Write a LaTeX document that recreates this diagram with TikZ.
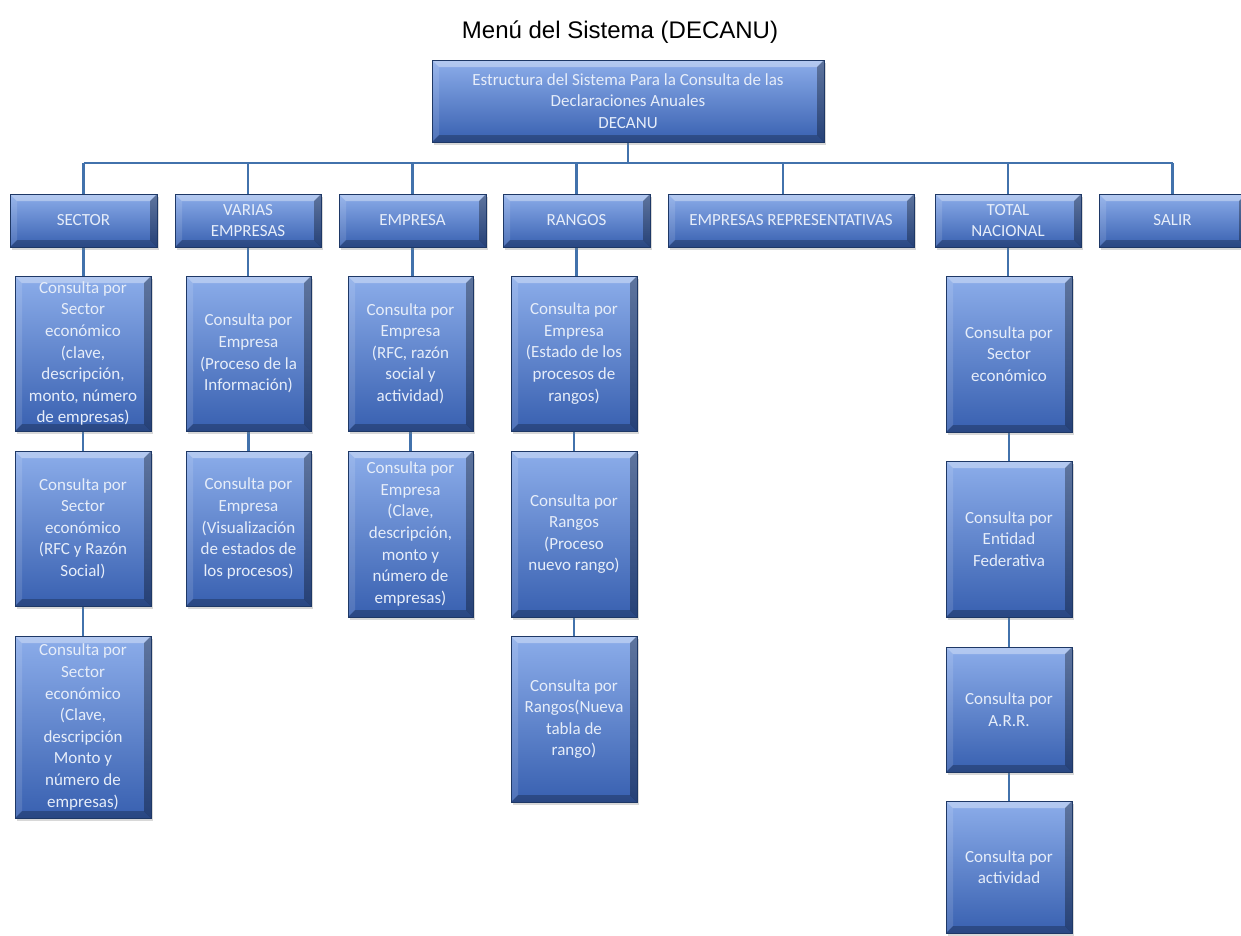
\documentclass[tikz,border=0pt]{standalone}
\usepackage{fontspec}
\usetikzlibrary{shadows}
\newfontfamily\boxff{Carlito}
\newfontfamily\titleff{Liberation Sans}
\definecolor{facetop}{RGB}{140,173,234}
\definecolor{facemid}{RGB}{90,137,218}
\definecolor{facebot}{RGB}{56,96,176}
\definecolor{boxedge}{RGB}{30,56,102}
\definecolor{boxtext}{RGB}{230,237,249}
\definecolor{linkcol}{RGB}{66,114,172}
\pgfdeclarelayer{bg}
\pgfsetlayers{bg,main}
\tikzset{
  bevelbox/.style={
    rectangle, draw=boxedge, line width=0.7pt, inner sep=0pt,
    top color=facetop, middle color=facemid, bottom color=facebot,
    text=boxtext, align=center,
    font=\boxff\fontsize{17}{21.6}\selectfont,
    drop shadow={shadow xshift=1.5pt, shadow yshift=-3pt, opacity=0.3},
    path picture={
      \fill[white, opacity=0.35]
        (path picture bounding box.north west) -- (path picture bounding box.north east)
        -- ([xshift=-7pt,yshift=-7pt]path picture bounding box.north east)
        -- ([xshift=7pt,yshift=-7pt]path picture bounding box.north west) -- cycle;
      \fill[white, opacity=0.12]
        (path picture bounding box.north west) -- ([xshift=7pt,yshift=-7pt]path picture bounding box.north west)
        -- ([xshift=7pt,yshift=7pt]path picture bounding box.south west)
        -- (path picture bounding box.south west) -- cycle;
      \fill[black, opacity=0.32]
        (path picture bounding box.north east) -- ([xshift=-7pt,yshift=-7pt]path picture bounding box.north east)
        -- ([xshift=-7pt,yshift=7pt]path picture bounding box.south east)
        -- (path picture bounding box.south east) -- cycle;
      \fill[black, opacity=0.25]
        (path picture bounding box.south west) -- (path picture bounding box.south east)
        -- ([xshift=-7pt,yshift=7pt]path picture bounding box.south east)
        -- ([xshift=7pt,yshift=7pt]path picture bounding box.south west) -- cycle;
    }
  },
  link/.style={draw=linkcol, line width=2.2pt}
}
% \bx{name}{x1}{y1}{x2}{y2}{text}: a bevelled box spanning the given corners
\newcommand{\bx}[6]{%
  \node[bevelbox, minimum width={#4-#2}, minimum height={#5-#3}]
    (#1) at ({(#2+#4)/2},{(#3+#5)/2}) {#6};}
\begin{document}
\begin{tikzpicture}[x=1pt, y=-1pt]
\begin{pgfonlayer}{bg}
  \fill[white] (0,0) rectangle (1241,935);
\end{pgfonlayer}
\useasboundingbox (0,0) rectangle (1241,935);

\node[font=\titleff\fontsize{24}{28}\selectfont, anchor=base] (title) at (620,38) {Menú del Sistema (DECANU)};

\bx{top}{432}{60}{824}{142}{Estructura del Sistema Para la Consulta de las\\Declaraciones Anuales\\DECANU}

% first level
\bx{sector}{10}{194}{157}{247}{SECTOR}
\bx{varias}{175}{194}{321}{247}{VARIAS\\EMPRESAS}
\bx{empresa}{339}{194}{486}{247}{EMPRESA}
\bx{rangos}{503}{194}{650}{247}{RANGOS}
\bx{repres}{668}{194}{914}{247}{EMPRESAS REPRESENTATIVAS}
\bx{total}{935}{194}{1081}{247}{TOTAL\\NACIONAL}
\bx{salir}{1099}{194}{1246}{247}{SALIR}

% SECTOR column
\bx{s1}{15}{276}{151}{431}{Consulta por\\Sector\\económico\\(clave,\\descripción,\\monto, número\\de empresas)}
\bx{s2}{15}{451}{151}{606}{Consulta por\\Sector\\económico\\(RFC y Razón\\Social)}
\bx{s3}{15}{636}{151}{818}{Consulta por\\Sector\\económico\\(Clave,\\descripción\\Monto y\\número de\\empresas)}

% VARIAS EMPRESAS column
\bx{v1}{186}{276}{311}{431}{Consulta por\\Empresa\\(Proceso de la\\Información)}
\bx{v2}{186}{451}{311}{606}{Consulta por\\Empresa\\(Visualización\\de estados de\\los procesos)}

% EMPRESA column
\bx{e1}{348}{276}{473}{431}{Consulta por\\Empresa\\(RFC, razón\\social y\\actividad)}
\bx{e2}{348}{451}{473}{617}{Consulta por\\Empresa\\(Clave,\\descripción,\\monto y\\número de\\empresas)}

% RANGOS column
\bx{r1}{511}{276}{637}{431}{Consulta por\\Empresa\\(Estado de los\\procesos de\\rangos)}
\bx{r2}{511}{451}{637}{617}{Consulta por\\Rangos\\(Proceso\\nuevo rango)}
\bx{r3}{511}{636}{637}{802}{Consulta por\\Rangos(Nueva\\tabla de\\rango)}

% TOTAL NACIONAL column
\bx{t1}{946}{276}{1072}{432}{Consulta por\\Sector\\económico}
\bx{t2}{946}{461}{1072}{617}{Consulta por\\Entidad\\Federativa}
\bx{t3}{946}{647}{1072}{772}{Consulta por\\A.R.R.}
\bx{t4}{946}{801}{1072}{933}{Consulta por\\actividad}

\begin{pgfonlayer}{bg}
  \coordinate (bus) at (0,163);
  \draw[link] (top.south) -- (top.south |- bus);
  \draw[link] (sector.north |- bus) -- (salir.north |- bus);
  \foreach \n in {sector,varias,empresa,rangos,total,salir}
    \draw[link] (\n.north) -- (\n.north |- bus);
  \draw[link] ([xshift=-8pt]repres.north) -- ([xshift=-8pt]repres.north |- bus);
  \foreach \a/\b in {sector/s1,s1/s2,s2/s3,varias/v1,v1/v2,empresa/e1,e1/e2,
                     rangos/r1,r1/r2,r2/r3,total/t1,t1/t2,t2/t3,t3/t4}
    \draw[link] (\a.south) -- (\a.south |- \b.north);
\end{pgfonlayer}
\end{tikzpicture}
\end{document}
